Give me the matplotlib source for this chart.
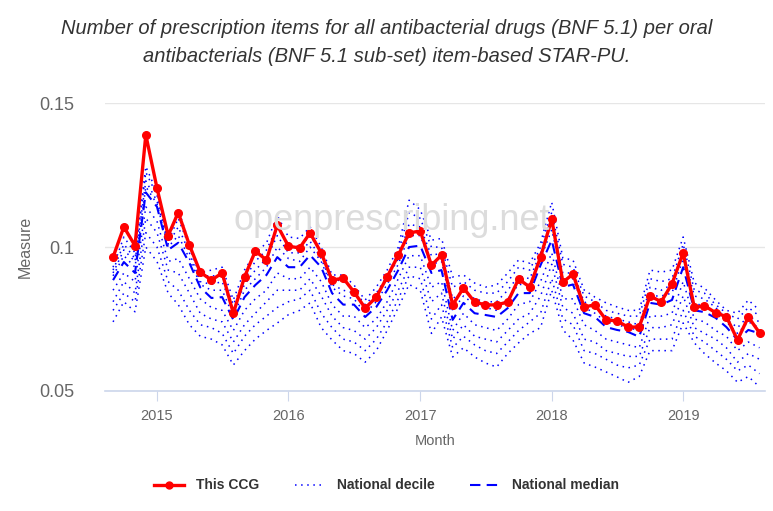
import numpy as np
import pandas as pd
import matplotlib
matplotlib.use('Agg')
import matplotlib.pyplot as plt
import matplotlib.dates as mdates
from matplotlib.lines import Line2D

plt.rcParams['font.family'] = ['Liberation Sans', 'DejaVu Sans']

# Meses (Sep 2014 - Aug 2019)
months = pd.date_range('2014-09-01', periods=60, freq='MS')

# Valores de este CCG
ccg = [0.0965, 0.107, 0.1005, 0.139,
       0.1205, 0.104, 0.112, 0.1007, 0.0913, 0.0885, 0.091, 0.077, 0.0896, 0.0986, 0.0955, 0.1076,
       0.1003, 0.0997, 0.1049, 0.098, 0.0885, 0.0892, 0.0844, 0.0788, 0.0826, 0.0896, 0.0972, 0.1049,
       0.1056, 0.0937, 0.0972, 0.0799, 0.0858, 0.0809, 0.0799, 0.0799, 0.0809, 0.0889, 0.0861, 0.0965,
       0.1097, 0.0878, 0.0906, 0.0792, 0.0799, 0.0747, 0.0743, 0.0722, 0.0722, 0.083, 0.081, 0.0872,
       0.098, 0.079, 0.0796, 0.0772, 0.0758, 0.0677, 0.0757, 0.0702]

# Mediana nacional
p50 = [0.0885, 0.0948, 0.091, 0.119,
       0.114, 0.099, 0.1015, 0.0945, 0.086, 0.0823, 0.0826, 0.0747, 0.0826, 0.0868, 0.0903, 0.0965,
       0.093, 0.093, 0.0972, 0.093, 0.084, 0.080, 0.080, 0.0757, 0.0792, 0.085, 0.092, 0.100,
       0.1005, 0.091, 0.092, 0.0747, 0.0806, 0.077, 0.0764, 0.0757, 0.0788, 0.084, 0.084, 0.0937,
       0.1024, 0.0861, 0.087, 0.077, 0.0757, 0.0722, 0.0712, 0.0705, 0.0688, 0.0806, 0.080, 0.0816,
       0.093, 0.078, 0.0774, 0.0754, 0.0722, 0.0677, 0.0712, 0.070]

# Deciles nacionales
p10 = [0.074, 0.081, 0.0775, 0.100,
       0.095, 0.084, 0.080, 0.073, 0.069, 0.068, 0.066, 0.059, 0.064, 0.068, 0.071, 0.0736,
       0.0765, 0.078, 0.0806, 0.072, 0.0677, 0.064, 0.063, 0.060, 0.064, 0.071, 0.079, 0.087,
       0.085, 0.070, 0.0757, 0.0618, 0.065, 0.0618, 0.0597, 0.0583, 0.063, 0.0667, 0.070, 0.072,
       0.085, 0.0712, 0.0677, 0.0597, 0.0583, 0.0566, 0.0549, 0.053, 0.055, 0.064, 0.064, 0.064,
       0.0736, 0.0667, 0.063, 0.0597, 0.057, 0.053, 0.055, 0.0514]
p20 = [0.078, 0.084, 0.081, 0.105,
       0.100, 0.088, 0.085, 0.078, 0.073, 0.072, 0.070, 0.063, 0.069, 0.073, 0.076, 0.079,
       0.081, 0.082, 0.085, 0.077, 0.072, 0.068, 0.067, 0.064, 0.068, 0.074, 0.082, 0.090,
       0.089, 0.075, 0.080, 0.065, 0.069, 0.066, 0.064, 0.063, 0.067, 0.071, 0.074, 0.077,
       0.089, 0.075, 0.073, 0.064, 0.063, 0.061, 0.059, 0.058, 0.059, 0.068, 0.068, 0.068,
       0.078, 0.069, 0.067, 0.064, 0.061, 0.057, 0.059, 0.056]
p30 = [0.081, 0.088, 0.084, 0.110,
       0.105, 0.092, 0.091, 0.084, 0.077, 0.075, 0.074, 0.067, 0.073, 0.077, 0.081, 0.085,
       0.085, 0.085, 0.089, 0.083, 0.076, 0.072, 0.071, 0.068, 0.072, 0.078, 0.085, 0.093,
       0.093, 0.081, 0.084, 0.068, 0.073, 0.069, 0.068, 0.067, 0.071, 0.075, 0.077, 0.083,
       0.094, 0.079, 0.077, 0.068, 0.067, 0.064, 0.063, 0.062, 0.062, 0.072, 0.072, 0.073,
       0.083, 0.072, 0.070, 0.068, 0.065, 0.060, 0.063, 0.061]
p40 = [0.085, 0.091, 0.088, 0.114,
       0.109, 0.095, 0.096, 0.089, 0.082, 0.079, 0.078, 0.071, 0.078, 0.082, 0.085, 0.091,
       0.089, 0.089, 0.093, 0.088, 0.080, 0.076, 0.076, 0.072, 0.075, 0.081, 0.089, 0.097,
       0.097, 0.086, 0.088, 0.071, 0.077, 0.073, 0.072, 0.071, 0.075, 0.080, 0.081, 0.088,
       0.098, 0.082, 0.082, 0.073, 0.071, 0.068, 0.067, 0.066, 0.065, 0.076, 0.076, 0.077,
       0.088, 0.075, 0.074, 0.071, 0.069, 0.064, 0.067, 0.065]
p60 = [0.090, 0.097, 0.093, 0.121,
       0.115, 0.100, 0.104, 0.096, 0.087, 0.085, 0.085, 0.076, 0.085, 0.089, 0.093, 0.100,
       0.096, 0.095, 0.100, 0.095, 0.086, 0.083, 0.082, 0.077, 0.081, 0.087, 0.094, 0.104,
       0.104, 0.094, 0.095, 0.078, 0.083, 0.080, 0.079, 0.078, 0.082, 0.087, 0.087, 0.096,
       0.106, 0.089, 0.089, 0.079, 0.077, 0.074, 0.073, 0.072, 0.071, 0.083, 0.083, 0.084,
       0.096, 0.080, 0.080, 0.077, 0.074, 0.070, 0.074, 0.072]
p70 = [0.091, 0.099, 0.095, 0.123,
       0.116, 0.101, 0.107, 0.098, 0.088, 0.087, 0.088, 0.078, 0.087, 0.092, 0.096, 0.104,
       0.098, 0.098, 0.102, 0.096, 0.087, 0.085, 0.084, 0.079, 0.083, 0.089, 0.096, 0.108,
       0.107, 0.097, 0.098, 0.082, 0.085, 0.082, 0.081, 0.081, 0.085, 0.090, 0.089, 0.098,
       0.109, 0.091, 0.091, 0.081, 0.079, 0.076, 0.075, 0.074, 0.073, 0.086, 0.085, 0.087,
       0.098, 0.083, 0.082, 0.079, 0.075, 0.072, 0.076, 0.074]
p80 = [0.092, 0.101, 0.096, 0.126,
       0.118, 0.102, 0.110, 0.100, 0.090, 0.090, 0.090, 0.080, 0.089, 0.095, 0.099, 0.107,
       0.101, 0.100, 0.104, 0.098, 0.089, 0.088, 0.085, 0.080, 0.084, 0.090, 0.098, 0.112,
       0.110, 0.100, 0.100, 0.086, 0.088, 0.085, 0.084, 0.084, 0.088, 0.093, 0.092, 0.100,
       0.112, 0.094, 0.093, 0.083, 0.081, 0.078, 0.077, 0.076, 0.076, 0.089, 0.088, 0.089,
       0.101, 0.085, 0.084, 0.080, 0.077, 0.075, 0.079, 0.076]
p90 = [0.093, 0.1035, 0.098, 0.128,
       0.119, 0.1025, 0.113, 0.1015, 0.091, 0.092, 0.093, 0.0816, 0.092, 0.098, 0.1014, 0.111,
       0.1035, 0.103, 0.107, 0.100, 0.0903, 0.0903, 0.0868, 0.0816, 0.0861, 0.092, 0.100, 0.1163,
       0.113, 0.1024, 0.103, 0.0896, 0.0903, 0.0875, 0.0861, 0.0868, 0.091, 0.0955, 0.0944, 0.1014,
       0.1156, 0.0962, 0.0955, 0.0851, 0.0826, 0.0806, 0.0792, 0.078, 0.078, 0.092, 0.0913, 0.092,
       0.1035, 0.0875, 0.0858, 0.0816, 0.078, 0.077, 0.0816, 0.078]

deciles = [p10, p20, p30, p40, p60, p70, p80, p90]

fig = plt.figure(figsize=(7.73, 5.11), dpi=100)
ax = fig.add_axes([0.136, 0.235, 0.854, 0.563])

# Marca de agua
fig.text(0.507, 0.569, 'openprescribing.net', fontsize=26, color='#dcdcdc',
         ha='center', va='center', zorder=0)
ax.patch.set_alpha(0)

dotted = (0, (1, 3))
for d in deciles:
    ax.plot(months, d, color='blue', linestyle=dotted, linewidth=1.1, zorder=2)
ax.plot(months, p50, color='blue', linestyle=(0, (5, 3)), linewidth=1.5, zorder=3)
ax.plot(months, ccg, color='red', linewidth=2.4, marker='o', markersize=5.5, zorder=4)

ax.set_ylim(0.05, 0.15)
ax.set_yticks([0.05, 0.1, 0.15])
ax.set_yticklabels(['0.05', '0.1', '0.15'])
ax.set_xlim(pd.Timestamp('2014-08-10'), pd.Timestamp('2019-08-17'))
ax.xaxis.set_major_locator(mdates.YearLocator())
ax.xaxis.set_major_formatter(mdates.DateFormatter('%Y'))

ax.grid(axis='y', color='#e6e6e6', linewidth=1)
ax.set_axisbelow(True)
for s in ['top', 'right', 'left']:
    ax.spines[s].set_visible(False)
ax.spines['bottom'].set_color('#ccd6eb')
ax.spines['bottom'].set_linewidth(1.2)
ax.tick_params(axis='y', length=0, labelsize=13, labelcolor='#666666', pad=22)
ax.tick_params(axis='x', length=7, color='#ccd6eb', labelsize=10.5, labelcolor='#666666', pad=6)

ax.set_ylabel('Measure', fontsize=11.5, color='#666666', labelpad=5)
ax.set_xlabel('Month', fontsize=10.5, color='#666666', labelpad=8)

fig.text(0.5, 0.963, 'Number of prescription items for all antibacterial drugs (BNF 5.1) per oral\n'
         'antibacterials (BNF 5.1 sub-set) item-based STAR-PU.',
         ha='center', va='top', fontsize=14.5, style='italic', color='#333333', linespacing=1.6)

handles = [Line2D([], [], color='red', linewidth=2.4, marker='o', markersize=5),
           Line2D([], [], color='blue', linestyle=dotted, linewidth=1.1),
           Line2D([], [], color='blue', linestyle=(0, (5, 3)), linewidth=1.5)]
fig.legend(handles, ['This CCG', 'National decile', 'National median'],
           loc='center', bbox_to_anchor=(0.5, 0.05), ncol=3, frameon=False,
           prop={'size': 10, 'weight': 'bold'}, labelcolor='#333333',
           handlelength=2.2, columnspacing=2.6)

plt.savefig('out.png', dpi=100)
